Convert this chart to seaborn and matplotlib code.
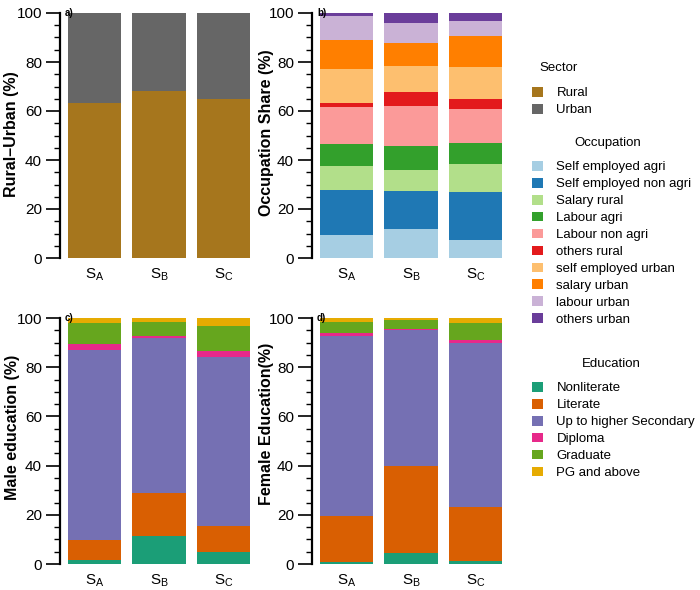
import numpy as np
import pandas as pd
import matplotlib
matplotlib.use("Agg")
import matplotlib.pyplot as plt
import seaborn as sns
from matplotlib.patches import Patch
from matplotlib.ticker import MultipleLocator

# ---------------- data ----------------
scenarios = [r"S$_\mathregular{A}$", r"S$_\mathregular{B}$", r"S$_\mathregular{C}$"]

sector_names = ["Rural", "Urban"]
rural = [63.3, 68.2, 64.9]
urban = [36.7, 31.8, 35.1]

occupation_names = ["Self employed agri", "Self employed non agri", "Salary rural",
                    "Labour agri", "Labour non agri", "others rural",
                    "self employed urban", "salary urban", "labour urban", "others urban"]
self_employed_agri = [9.3, 11.8, 7.5]
self_employed_non_agri = [18.6, 15.4, 19.6]
salary_rural = [9.5, 8.7, 11.4]
labour_agri = [9.1, 10.0, 8.4]
labour_non_agri = [15.0, 16.0, 13.9]
others_rural = [1.6, 6.0, 4.0]
self_employed_urban = [14.2, 10.5, 13.2]
salary_urban = [11.5, 9.2, 12.5]
labour_urban = [9.8, 8.5, 6.4]
others_urban = [1.4, 3.9, 3.1]

education_names = ["Nonliterate", "Literate", "Up to higher Secondary",
                   "Diploma", "Graduate", "PG and above"]
male_nonliterate = [1.6, 11.2, 5.0]
male_literate = [8.3, 17.8, 10.6]
male_upto_hs = [77.2, 62.9, 68.7]
male_diploma = [2.3, 0.9, 2.1]
male_graduate = [8.4, 5.7, 10.2]
male_pg = [2.2, 1.5, 3.4]

female_nonliterate = [0.8, 4.5, 1.1]
female_literate = [18.6, 35.3, 22.1]
female_upto_hs = [73.4, 55.2, 66.6]
female_diploma = [1.0, 0.5, 1.3]
female_graduate = [4.7, 3.6, 6.9]
female_pg = [1.5, 0.9, 2.0]

sector_colors = ["#A6761D", "#666666"]
occupation_colors = ["#A6CEE3", "#1F78B4", "#B2DF8A", "#33A02C", "#FB9A99",
                     "#E31A1C", "#FDBF6F", "#FF7F00", "#CAB2D6", "#6A3D9A"]
education_colors = ["#1B9E77", "#D95F02", "#7570B3", "#E7298A", "#66A61E", "#E6AB02"]

# ---------------- style ----------------
sns.set_theme(style="ticks", rc={"text.color": "black", "axes.labelcolor": "black",
                                 "xtick.color": "black", "ytick.color": "black",
                                 "axes.edgecolor": "black"})
plt.rcParams['font.family'] = ['Liberation Sans', 'DejaVu Sans']
plt.rcParams['mathtext.fontset'] = 'custom'
plt.rcParams['mathtext.rm'] = 'Liberation Sans'

W, H = 700, 590
fig = plt.figure(figsize=(W / 100, H / 100), dpi=100)


def px_axes(left, top, right, bottom):
    return fig.add_axes([left / W, 1 - bottom / H, (right - left) / W, (bottom - top) / H])


def stacked(ax, series_list, names, colors):
    rows = []
    for name, vals in zip(names, series_list):
        for s, v in zip(scenarios, vals):
            rows.append({"scenario": s, "category": name, "value": v})
    df = pd.DataFrame(rows)
    df["bottom"] = df.groupby("scenario", sort=False)["value"].cumsum() - df["value"]
    for name, col in zip(names, colors):
        sub = df[df["category"] == name]
        sns.barplot(data=sub, x="scenario", y="value", order=scenarios,
                    bottom=sub["bottom"].to_numpy(), color=col, saturation=1,
                    width=0.83, errorbar=None, linewidth=0, ax=ax)


def style_axis(ax, ylabel, tag, label_x, label_y):
    ax.set_xlim(-0.54, 2.54)
    ax.set_ylim(0, 100)
    ax.yaxis.set_major_locator(MultipleLocator(20))
    ax.yaxis.set_minor_locator(MultipleLocator(5))
    ax.tick_params(axis="y", which="major", length=10, width=1.2, labelsize=11, pad=3)
    ax.tick_params(axis="y", which="minor", length=4.5, width=1.0)
    ax.tick_params(axis="x", length=0, labelsize=11, pad=6)
    for sp in ["top", "right", "bottom"]:
        ax.spines[sp].set_visible(False)
    ax.spines["left"].set_linewidth(1.6)
    ax.spines["left"].set_bounds(0, 100)
    ax.set_xlabel("")
    ax.set_ylabel(ylabel, fontsize=11.5, fontweight="bold")
    ax.yaxis.set_label_coords(label_x, label_y)
    ax.text(0.025, 1.0, tag, transform=ax.transAxes, fontsize=7,
            fontweight="bold", ha="left", va="center")


ax_a = px_axes(60, 13, 258, 258)
stacked(ax_a, [rural, urban], sector_names, sector_colors)
style_axis(ax_a, "Rural\u2013Urban (%)", "a)", -0.207, 0.506)

ax_b = px_axes(312, 13, 510, 258)
stacked(ax_b, [self_employed_agri, self_employed_non_agri, salary_rural, labour_agri,
               labour_non_agri, others_rural, self_employed_urban, salary_urban,
               labour_urban, others_urban], occupation_names, occupation_colors)
style_axis(ax_b, "Occupation Share (%)", "b)", -0.19, 0.51)

ax_c = px_axes(60, 318, 258, 564)
stacked(ax_c, [male_nonliterate, male_literate, male_upto_hs, male_diploma,
               male_graduate, male_pg], education_names, education_colors)
style_axis(ax_c, "Male education (%)", "c)", -0.20, 0.557)

ax_d = px_axes(312, 318, 510, 564)
stacked(ax_d, [female_nonliterate, female_literate, female_upto_hs, female_diploma,
               female_graduate, female_pg], education_names, education_colors)
style_axis(ax_d, "Female Education(%)", "d)", -0.19, 0.57)


def add_legend(names, colors, title, left_px, first_center_px, title_cx, title_cy):
    handles = [Patch(facecolor=c, edgecolor="none") for c in colors]
    fig.legend(handles, names, loc="upper left",
               bbox_to_anchor=(left_px / W, 1 - (first_center_px - 7) / H), frameon=False,
               fontsize=9.5, handlelength=0.85,
               handleheight=0.75, handletextpad=1.0, labelspacing=0.34,
               borderaxespad=0, borderpad=0)
    fig.text(title_cx / W, 1 - title_cy / H, title, fontsize=9.5,
             ha="center", va="center")


add_legend(sector_names, sector_colors, "Sector", 532, 94, 559, 68)
add_legend(occupation_names, occupation_colors, "Occupation", 532, 168, 608, 143)
add_legend(education_names, education_colors, "Education", 532, 389, 611, 364)

fig.savefig("out.png", dpi=100)
